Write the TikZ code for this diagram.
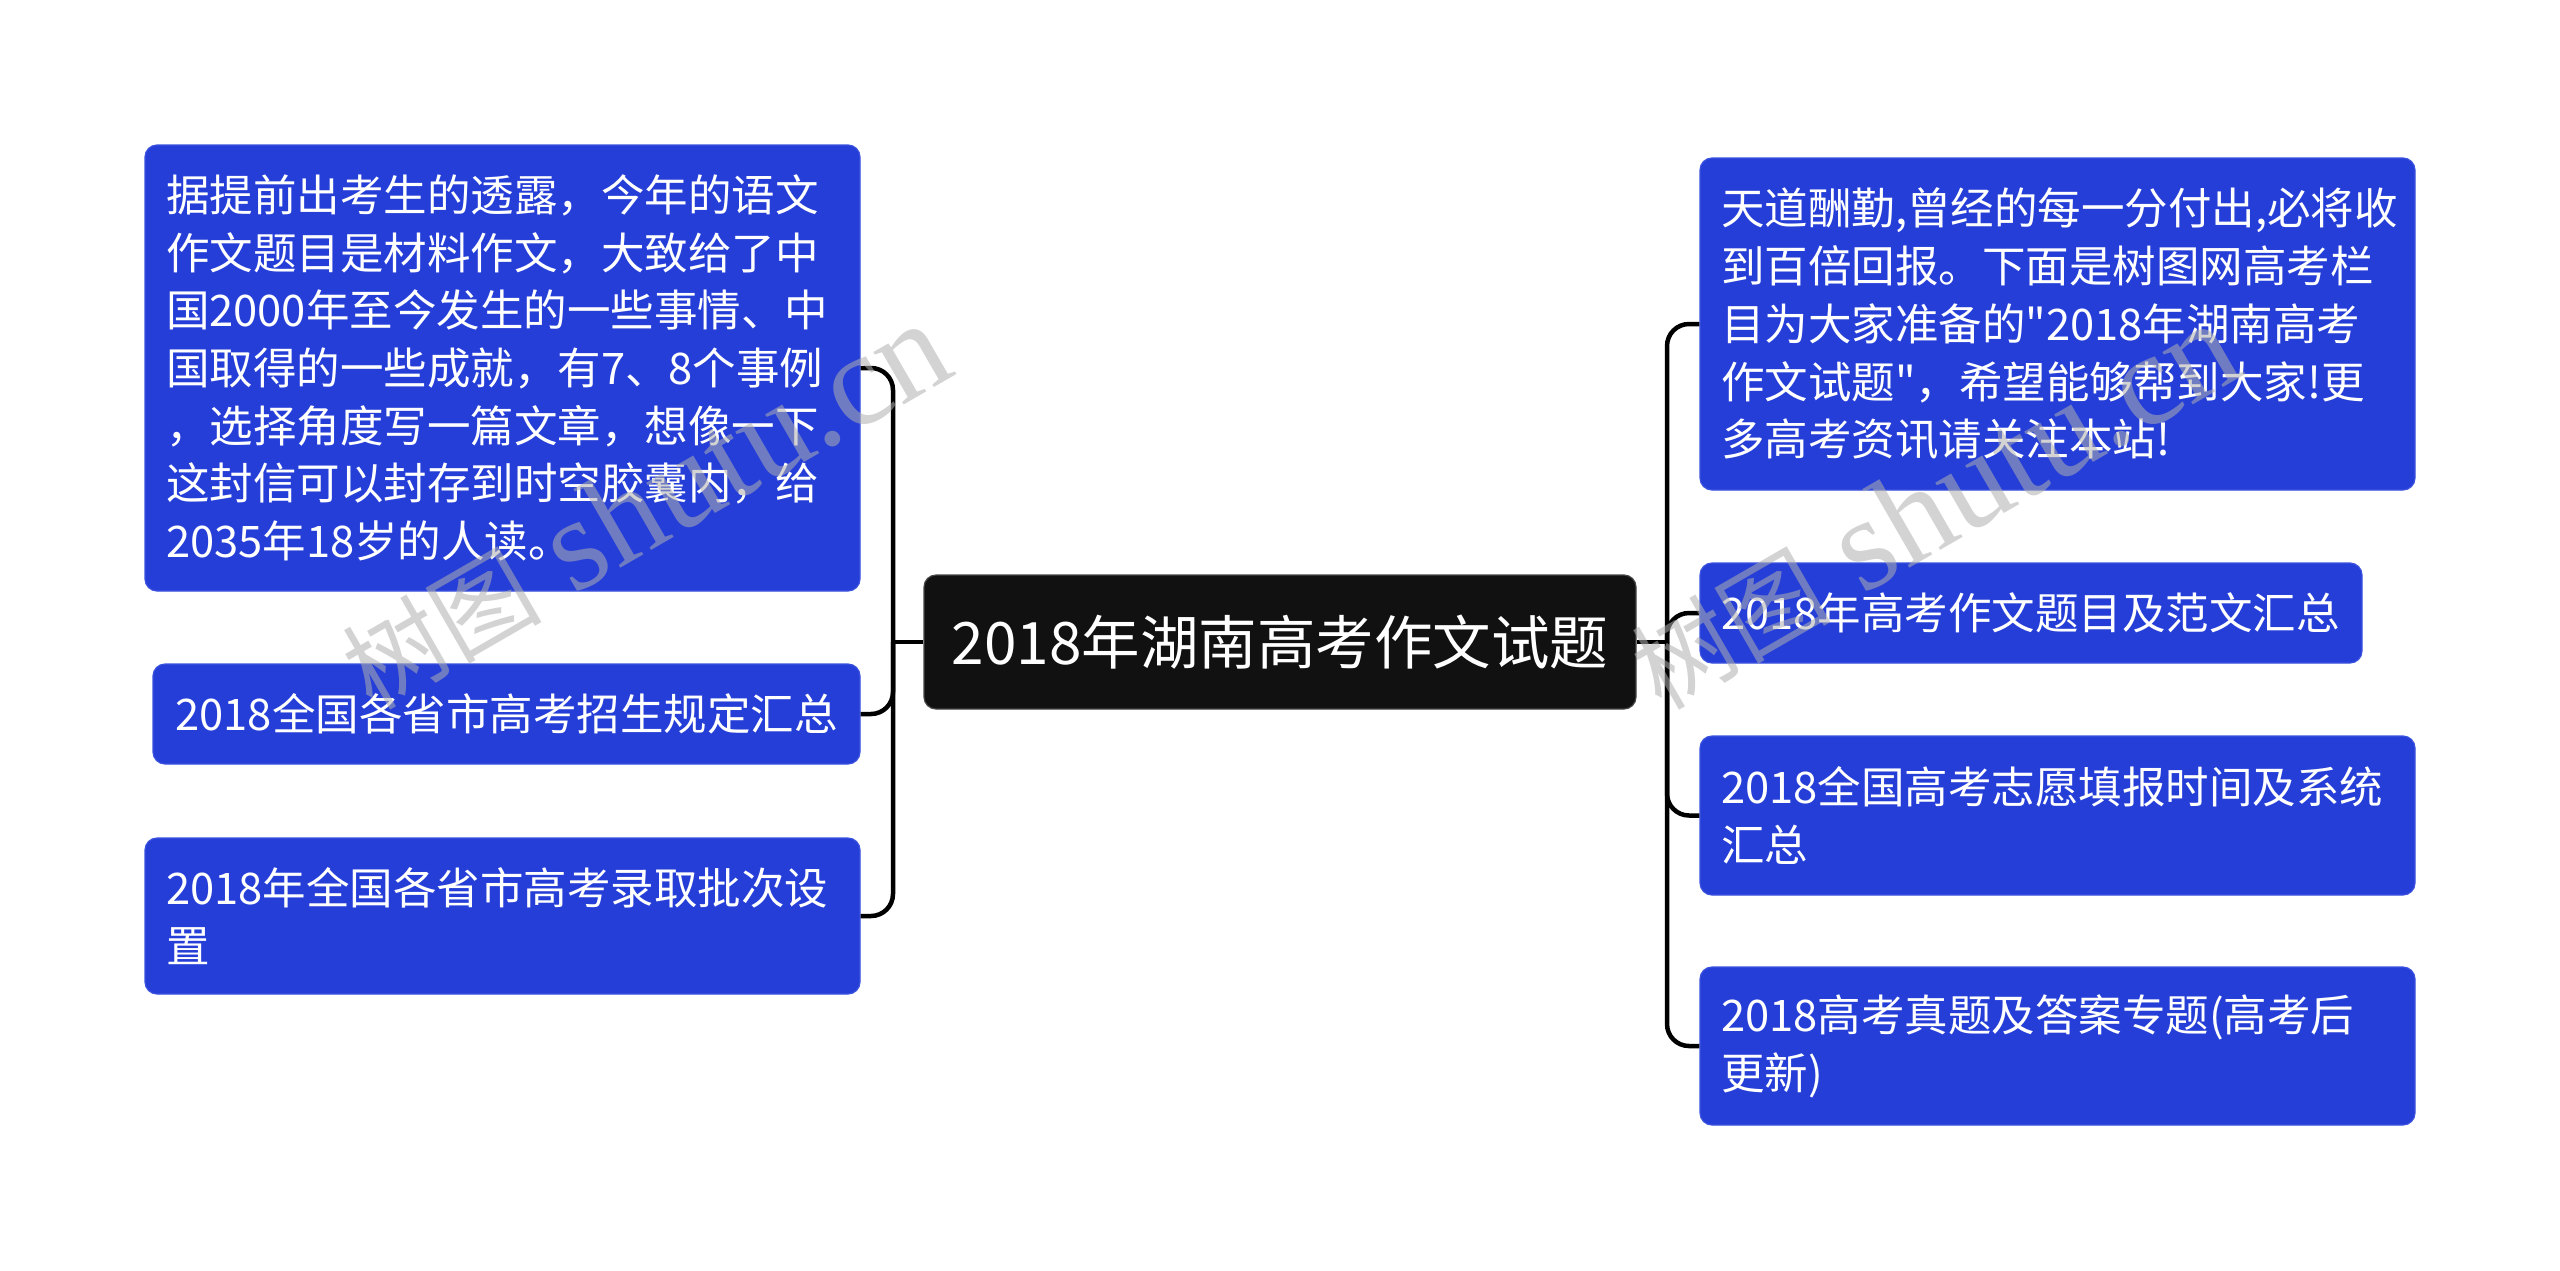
\documentclass[tikz,border=0pt]{standalone}
\usepackage{fontspec}
\setmainfont{Noto Sans CJK SC}[Ligatures=TeXOff]
\newfontfamily\wmlatin{Liberation Serif}
\newfontfamily\wmcjk{Noto Sans CJK SC}
\definecolor{boxblue}{RGB}{37,62,216}
\definecolor{boxedge}{RGB}{58,82,222}
\definecolor{rootfill}{RGB}{17,17,17}
\definecolor{rootedge}{RGB}{70,70,70}
\definecolor{wmgray}{RGB}{175,175,175}
\begin{document}
\begin{tikzpicture}[x=1pt,y=-1pt,
  leaf/.style={rectangle, rounded corners=12pt, fill=boxblue, draw=boxedge, line width=1.2pt,
    text=white, inner xsep=21pt, inner ysep=0pt, align=left,
    font=\fontsize{43.5}{57.7}\selectfont},
  rootbox/.style={rectangle, rounded corners=12pt, fill=rootfill, draw=rootedge, line width=1.2pt,
    text=white, inner sep=0pt, align=center, font=\fontsize{58.5}{70}\selectfont},
  conn/.style={draw=black, line width=4.5pt, rounded corners=22pt},
  wm/.style={text=wmgray, opacity=0.55, text opacity=0.55, rotate=30, anchor=base west, inner sep=0pt}]
\fill[white] (0,0) rectangle (2560,1270);
\useasboundingbox (0,0) rectangle (2560,1270);

% root
\node[rootbox, minimum width=712pt, minimum height=134pt] (root) at (1280,642) {2018年湖南高考作文试题};

% left children
\node[leaf, text width=673pt, minimum height=446pt] (l1) at (502.5,368) {据提前出考生的透露，今年的语文\\作文题目是材料作文，大致给了中\\国2000年至今发生的一些事情、中\\国取得的一些成就，有7、8个事例\\，选择角度写一篇文章，想像一下\\这封信可以封存到时空胶囊内，给\\2035年18岁的人读。};
\node[leaf, text width=665pt, minimum height=100pt, align=center] (l2) at (506.5,714) {2018全国各省市高考招生规定汇总};
\node[leaf, text width=673pt, minimum height=156pt] (l3) at (502.5,916) {2018年全国各省市高考录取批次设\\置};

% right children
\node[leaf, text width=673pt, minimum height=332pt] (r1) at (2057.5,324) {天道酬勤,曾经的每一分付出,必将收\\到百倍回报。下面是树图网高考栏\\目为大家准备的"2018年湖南高考\\作文试题"，希望能够帮到大家!更\\多高考资讯请关注本站!};
\node[leaf, text width=620pt, minimum height=100pt] (r2) at (2031,613) {2018年高考作文题目及范文汇总};
\node[leaf, text width=673pt, minimum height=159pt] (r3) at (2057.5,815.5) {2018全国高考志愿填报时间及系统\\汇总};
\node[leaf, text width=673pt, minimum height=158pt] (r4) at (2057.5,1046) {2018高考真题及答案专题(高考后\\更新)};

% buses
\coordinate (lb) at (893,642);
\coordinate (rb) at (1667,642);

\draw[conn] (root.west) -- (lb);
\draw[conn] (lb) |- (l1.east);
\draw[conn] (lb) |- (l2.east);
\draw[conn] (lb) |- (l3.east);

\draw[conn] (root.east) -- (rb);
\draw[conn] (rb) |- (r1.west);
\draw[conn] (rb) |- (r2.west);
\draw[conn] (rb) |- (r3.west);
\draw[conn] (rb) |- (r4.west);

% watermarks
\node[wm] (wm1) at (372,712) {\fontsize{100}{110}\wmcjk\selectfont 树图\fontsize{132}{140}\wmlatin\selectfont\ shutu.cn};
\node[wm] (wm2) at (1661,712) {\fontsize{100}{110}\wmcjk\selectfont 树图\fontsize{132}{140}\wmlatin\selectfont\ shutu.cn};
\end{tikzpicture}
\end{document}
